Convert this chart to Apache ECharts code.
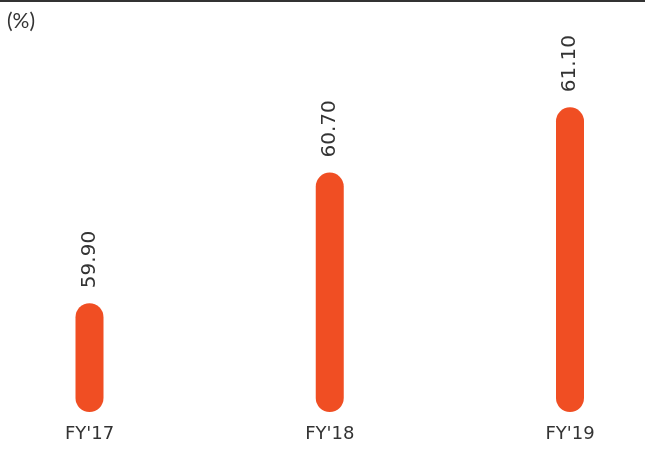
<!DOCTYPE html>
<html><head><meta charset="utf-8">
<script src="https://cdn.jsdelivr.net/npm/echarts@6/dist/echarts.min.js"></script>
<style>html,body{margin:0;padding:0;background:#fff}#c{width:645px;height:463px}</style>
</head><body><div id="c"></div>
<script>
const categories = ["FY'17", "FY'18", "FY'19"];
const values = [59.90, 60.70, 61.10];
const unitLabel = "(%)";

const chart = echarts.init(document.getElementById('c'), null, {renderer: 'canvas'});
const FONT = 'DejaVu Sans';
chart.setOption({
  animation: false,
  backgroundColor: '#fff',
  graphic: [
    {type: 'rect', shape: {x: 0, y: 0, width: 645, height: 2}, style: {fill: '#333'}},
    {type: 'text', left: 7, top: 11, style: {text: unitLabel, font: '21px Lato', fill: '#333'}}
  ],
  grid: {left: 89.5, right: 75, top: 42, bottom: 51},
  xAxis: {
    type: 'category', data: categories, boundaryGap: false,
    axisLine: {show: false}, axisTick: {show: false},
    axisLabel: {color: '#333', fontSize: 18, fontFamily: FONT, margin: 13}
  },
  yAxis: {type: 'value', min: 59.233, max: 61.5, show: false, splitLine: {show: false}},
  series: [{
    type: 'bar', data: values, barWidth: 28,
    itemStyle: {color: '#F04E23', borderRadius: 14},
    label: {
      show: true, position: 'top', rotate: 90, distance: 15,
      align: 'left', verticalAlign: 'middle',
      formatter: p => p.value.toFixed(2),
      color: '#333', fontSize: 20, fontFamily: FONT
    }
  }]
});
</script></body></html>
